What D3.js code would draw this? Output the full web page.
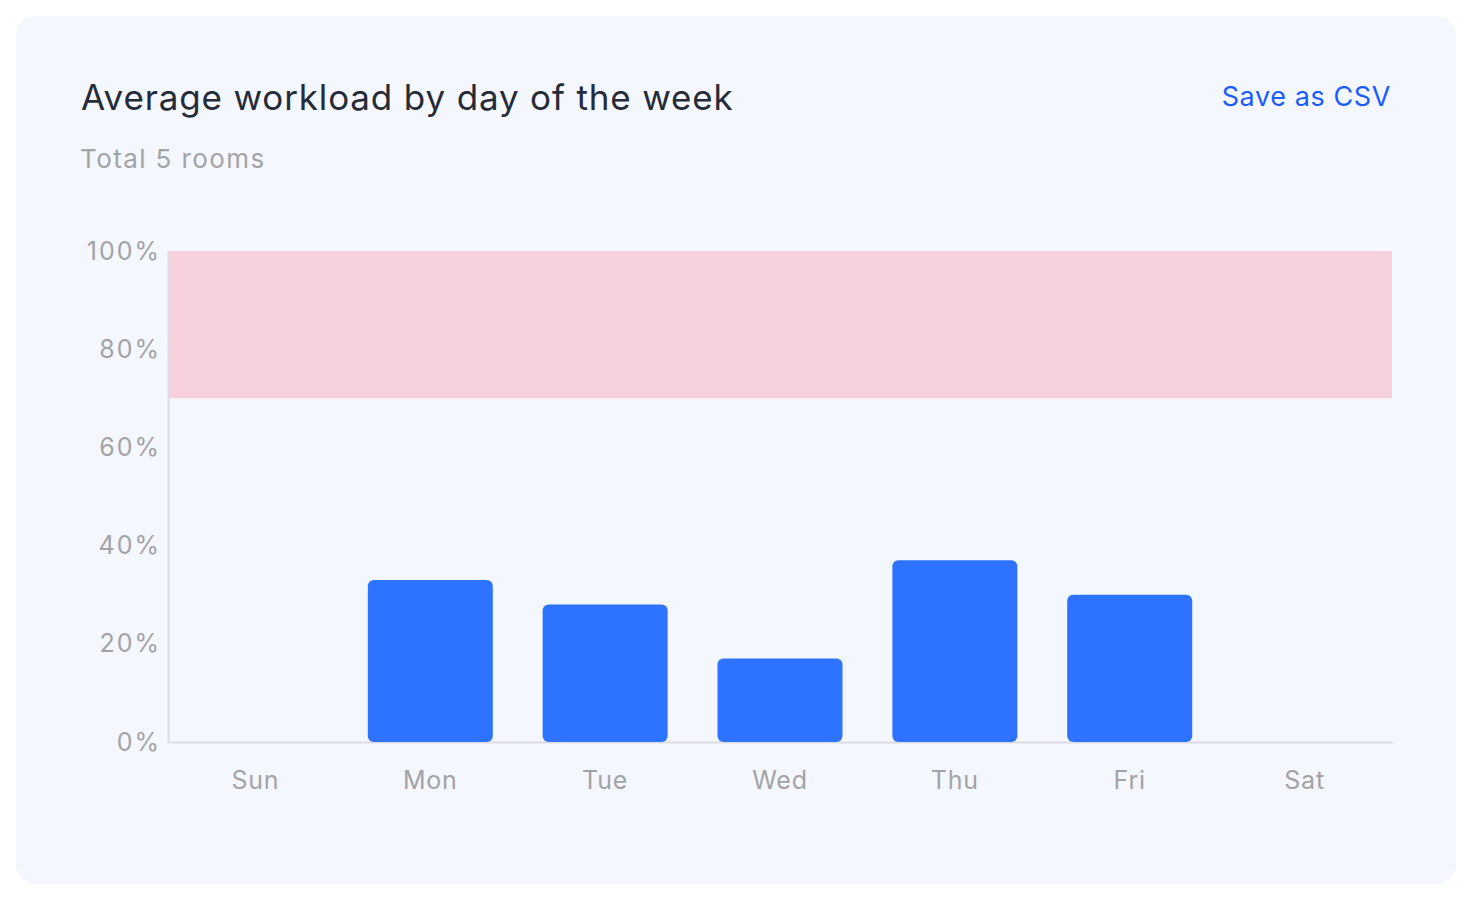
<!DOCTYPE html>
<html><head><meta charset="utf-8">
<script src="https://cdn.jsdelivr.net/npm/d3@7"></script>
<style>
html,body{margin:0;padding:0;background:#ffffff;}
svg{display:block;}
</style></head>
<body>
<svg id="chart" width="1472" height="900"></svg>
<script>
const days = ["Sun","Mon","Tue","Wed","Thu","Fri","Sat"];
const workload = [0, 33, 28, 17, 37, 30, 0];
const yTicks = [0, 20, 40, 60, 80, 100];
const overloadBand = [70, 100];

const svg = d3.select("#chart");
const font = "Inter, 'Noto Sans', sans-serif";

svg.append("rect").attr("x",16).attr("y",16).attr("width",1440).attr("height",868)
  .attr("rx",20).attr("fill","#f4f7fe");

svg.append("text").attr("x",81).attr("y",110).text("Average workload by day of the week")
  .attr("font-family",font).attr("font-size",35).attr("fill","#262b38").attr("letter-spacing","0.85px");
svg.append("text").attr("x",80).attr("y",168).text("Total 5 rooms")
  .attr("font-family",font).attr("font-size",26).attr("fill","#a3a3a6").attr("letter-spacing","1.4px");
svg.append("text").attr("x",1391).attr("y",106).attr("text-anchor","end").text("Save as CSV")
  .attr("font-family",font).attr("font-size",27).attr("fill","#1a5cff").attr("letter-spacing","0.6px");

const m = {left:168, right:1392, top:251, bottom:742};
const x = d3.scaleBand().domain(days).range([m.left, m.right]).paddingInner(0.285).paddingOuter(0.1425);
const y = d3.scaleLinear().domain([0,100]).range([m.bottom, m.top]);

svg.append("rect").attr("x",m.left).attr("y",y(overloadBand[1]))
  .attr("width",m.right-m.left).attr("height",y(overloadBand[0])-y(overloadBand[1]))
  .attr("fill","#f6d1dd");

// axes
const yAxis = svg.append("g").attr("transform",`translate(${m.left},0)`)
  .call(d3.axisLeft(y).tickValues(yTicks).tickSize(0).tickPadding(7).tickFormat(d=>d+"%"));
yAxis.select(".domain").attr("stroke","#dcdce4").attr("stroke-width",2);
yAxis.selectAll("text").attr("font-family",font).attr("font-size",25).attr("fill","#a3a3a6").attr("letter-spacing","2px");

const xAxis = svg.append("g").attr("transform",`translate(0,${m.bottom})`)
  .call(d3.axisBottom(x).tickSize(0).tickPadding(29));
xAxis.select(".domain").attr("stroke","#dcdce4").attr("stroke-width",2);
xAxis.selectAll("text").attr("font-family",font).attr("font-size",25).attr("fill","#a3a3a6").attr("letter-spacing","0.8px");

svg.append("g").selectAll("rect").data(days.map((d,i)=>({d, v:workload[i]})).filter(o=>o.v>0))
  .join("rect")
  .attr("x",o=>x(o.d)).attr("width",x.bandwidth())
  .attr("y",o=>y(o.v)).attr("height",o=>y(0)-y(o.v))
  .attr("rx",6).attr("fill","#2e73ff");
</script>
</body></html>
